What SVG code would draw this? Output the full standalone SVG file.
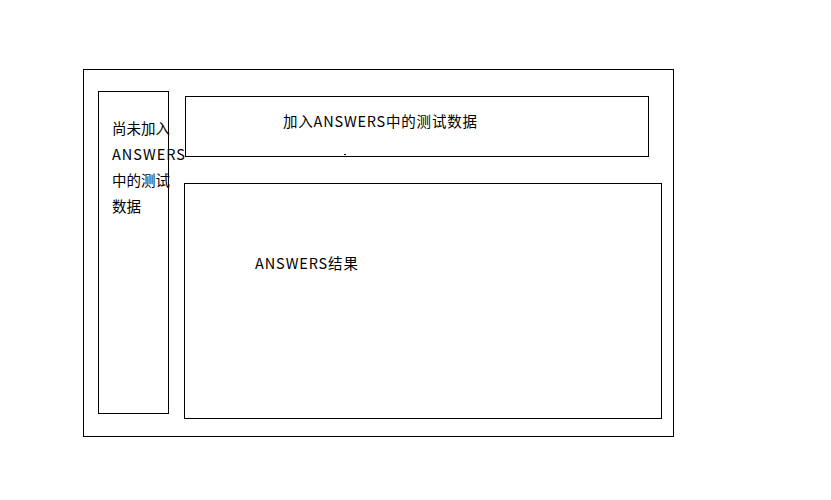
<svg xmlns="http://www.w3.org/2000/svg" width="831" height="500" viewBox="0 0 831 500">
<style>
rect{fill:none;stroke:#000;stroke-width:1}
text{font-family:"Microsoft YaHei","Noto Sans CJK SC","Noto Sans",sans-serif;font-size:14.5px;fill:#000}
</style>
<rect x="0" y="0" width="831" height="500" style="fill:#fff;stroke:none"/>
<g id="outer"><rect x="83.5" y="69.5" width="590" height="367"/></g>
<g id="left">
<rect x="98.5" y="91.5" width="70" height="322"/>
<text x="112" y="134">尚未加入</text>
<text x="112" y="160" textLength="73">ANSWERS</text>
<text x="112" y="186">中的测试</text>
<text x="112" y="212">数据</text>
</g>
<g id="top">
<rect x="185.5" y="96.5" width="463" height="60"/>
<text x="283" y="127" textLength="194">加入ANSWERS中的测试数据</text>
<rect x="344" y="154" width="2" height="1" style="fill:#000;stroke:none"/>
</g>
<g id="bottom">
<rect x="184.5" y="183.5" width="477" height="235"/>
<text x="255" y="269" textLength="103">ANSWERS结果</text>
</g>
</svg>
